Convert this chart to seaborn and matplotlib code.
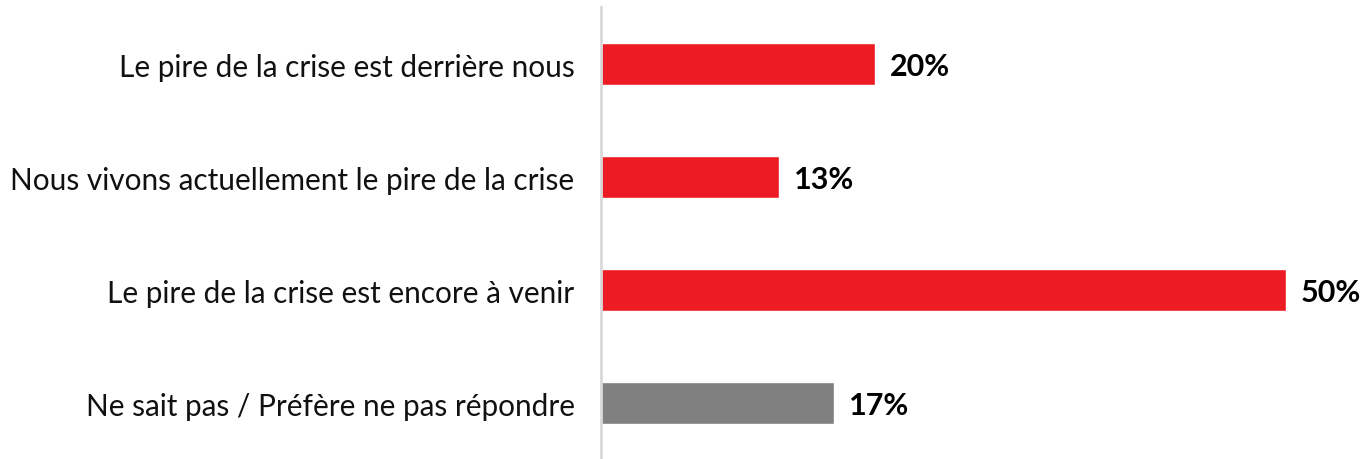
import matplotlib
matplotlib.use("Agg")
import matplotlib.pyplot as plt
import seaborn as sns
import pandas as pd

categories = [
    "Le pire de la crise est derrière nous",
    "Nous vivons actuellement le pire de la crise",
    "Le pire de la crise est encore à venir",
    "Ne sait pas / Préfère ne pas répondre",
]
values = [20, 13, 50, 17]
bar_colors = ["#ED1C24", "#ED1C24", "#ED1C24", "#808080"]

df = pd.DataFrame({"answer": categories, "pct": values})

sns.set_style("white")
plt.rcParams["font.family"] = ["Lato", "DejaVu Sans"]

fig = plt.figure(figsize=(13.62, 4.6), dpi=100)
ax = fig.add_axes([601 / 1362, 0, (1286 - 601) / 1362, 1 - 8 / 460])

sns.barplot(data=df, x="pct", y="answer", hue="answer", palette=bar_colors,
            legend=False, width=0.365, ax=ax, saturation=1)

ax.set_xlim(0, 50)
ax.set_ylim(3.495, -0.505)
ax.set_xlabel("")
ax.set_ylabel("")
ax.set_xticks([])
ax.tick_params(axis="y", length=0, pad=19, labelsize=21.4, labelcolor="#111111")
for side in ["top", "right", "bottom"]:
    ax.spines[side].set_visible(False)
ax.spines["left"].set_color("#d9d9d9")
ax.spines["left"].set_linewidth(2)

for i, v in enumerate(values):
    ax.text(v + 1.1, i + 0.02, f"{v}%", va="center", ha="left", fontsize=22,
            fontweight="bold", color="black", clip_on=False)

fig.savefig("out.png", dpi=100)
